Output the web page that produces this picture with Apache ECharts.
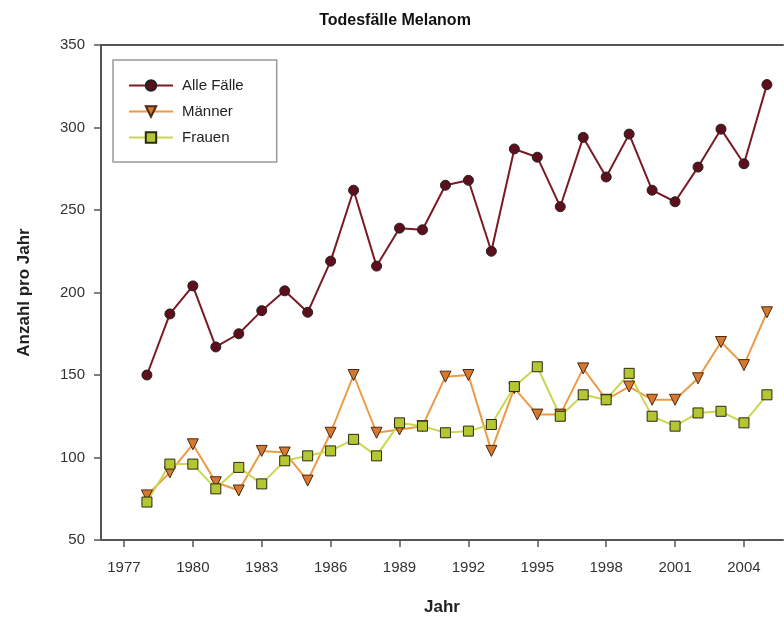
<!DOCTYPE html>
<html>
<head>
<meta charset="utf-8">
<script src="https://cdn.jsdelivr.net/npm/echarts@6/dist/echarts.min.js"></script>
<style>html,body{margin:0;padding:0;background:#fff}#c{width:784px;height:621px}</style>
</head>
<body>
<div id="c"></div>
<script>
const years = [1978,1979,1980,1981,1982,1983,1984,1985,1986,1987,1988,1989,1990,1991,1992,1993,1994,1995,1996,1997,1998,1999,2000,2001,2002,2003,2004,2005];
const alle   = [150,187,204,167,175,189,201,188,219,262,216,239,238,265,268,225,287,282,252,294,270,296,262,255,276,299,278,326];
const maenner= [77,91,108,85,80,104,103,86,115,150,115,117,119,149,150,104,142,126,126,154,135,143,135,135,148,170,156,188];
const frauen = [73,96,96,81,94,84,98,101,104,111,101,121,119,115,116,120,143,155,125,138,135,151,125,119,127,128,121,138];
const xTicks = [1977,1980,1983,1986,1989,1992,1995,1998,2001,2004];
const yTicks = [50,100,150,200,250,300,350];

const pair = arr => years.map((y,i)=>[y,arr[i]]);
const font = 'Liberation Sans, Arial, sans-serif';

const chart = echarts.init(document.getElementById('c'));
chart.setOption({
  animation:false,
  backgroundColor:'#fff',
  title:{text:'Todesfälle Melanom',left:390,top:8,textAlign:'center',
    textStyle:{fontFamily:font,fontSize:16,fontWeight:'bold',color:'#111'}},
  grid:{left:101,right:1,top:45,bottom:81,containLabel:false},
  legend:{orient:'vertical',left:113,top:60,
    padding:[18,33,17,15],itemWidth:44,itemHeight:13,itemGap:11,
    borderColor:'#999',borderWidth:1.5,backgroundColor:'#fff',
    textStyle:{fontFamily:font,fontSize:15,color:'#222',padding:[0,0,0,4]},
    data:['Alle Fälle','Männer','Frauen']},
  xAxis:[{
    type:'value',min:1976,max:2005.7,
    name:'Jahr',nameLocation:'middle',nameGap:59,
    nameTextStyle:{fontFamily:font,fontSize:17,fontWeight:'bold',color:'#222'},
    axisLine:{show:true,lineStyle:{color:'#555',width:2}},
    axisTick:{show:true,customValues:xTicks,length:7,inside:false,lineStyle:{color:'#555',width:1.5}},
    axisLabel:{customValues:xTicks,formatter:v=>String(v),fontFamily:font,fontSize:15,color:'#333',margin:20},
    splitLine:{show:false}
  },{
    type:'value',position:'top',min:1976,max:2005.7,
    axisLine:{show:true,lineStyle:{color:'#555',width:2}},
    axisTick:{show:false},axisLabel:{show:false},splitLine:{show:false}
  }],
  yAxis:{
    type:'value',min:50,max:350,interval:50,
    name:'Anzahl pro Jahr',nameLocation:'middle',nameGap:68,
    nameTextStyle:{fontFamily:font,fontSize:17,fontWeight:'bold',color:'#222'},
    axisLine:{show:true,lineStyle:{color:'#555',width:2}},
    axisTick:{show:true,length:7,lineStyle:{color:'#555',width:1.5}},
    axisLabel:{fontFamily:font,fontSize:15,color:'#333',margin:16},
    splitLine:{show:false}
  },
  series:[
    {name:'Alle Fälle',type:'line',data:pair(alle),symbol:'circle',symbolSize:10,
      lineStyle:{color:'#7a1a24',width:2},
      itemStyle:{color:'#5e0f1c',borderColor:'#222',borderWidth:1}},
    {name:'Männer',type:'line',data:pair(maenner),symbol:'triangle',symbolRotate:180,symbolSize:11,
      lineStyle:{color:'#ec9a44',width:2},
      itemStyle:{color:'#d8772e',borderColor:'#4a2a10',borderWidth:1}},
    {name:'Frauen',type:'line',data:pair(frauen),symbol:'rect',symbolSize:10,
      lineStyle:{color:'#c9d850',width:2},
      itemStyle:{color:'#b4c632',borderColor:'#2a2a10',borderWidth:1}}
  ]
});
</script>
</body>
</html>
